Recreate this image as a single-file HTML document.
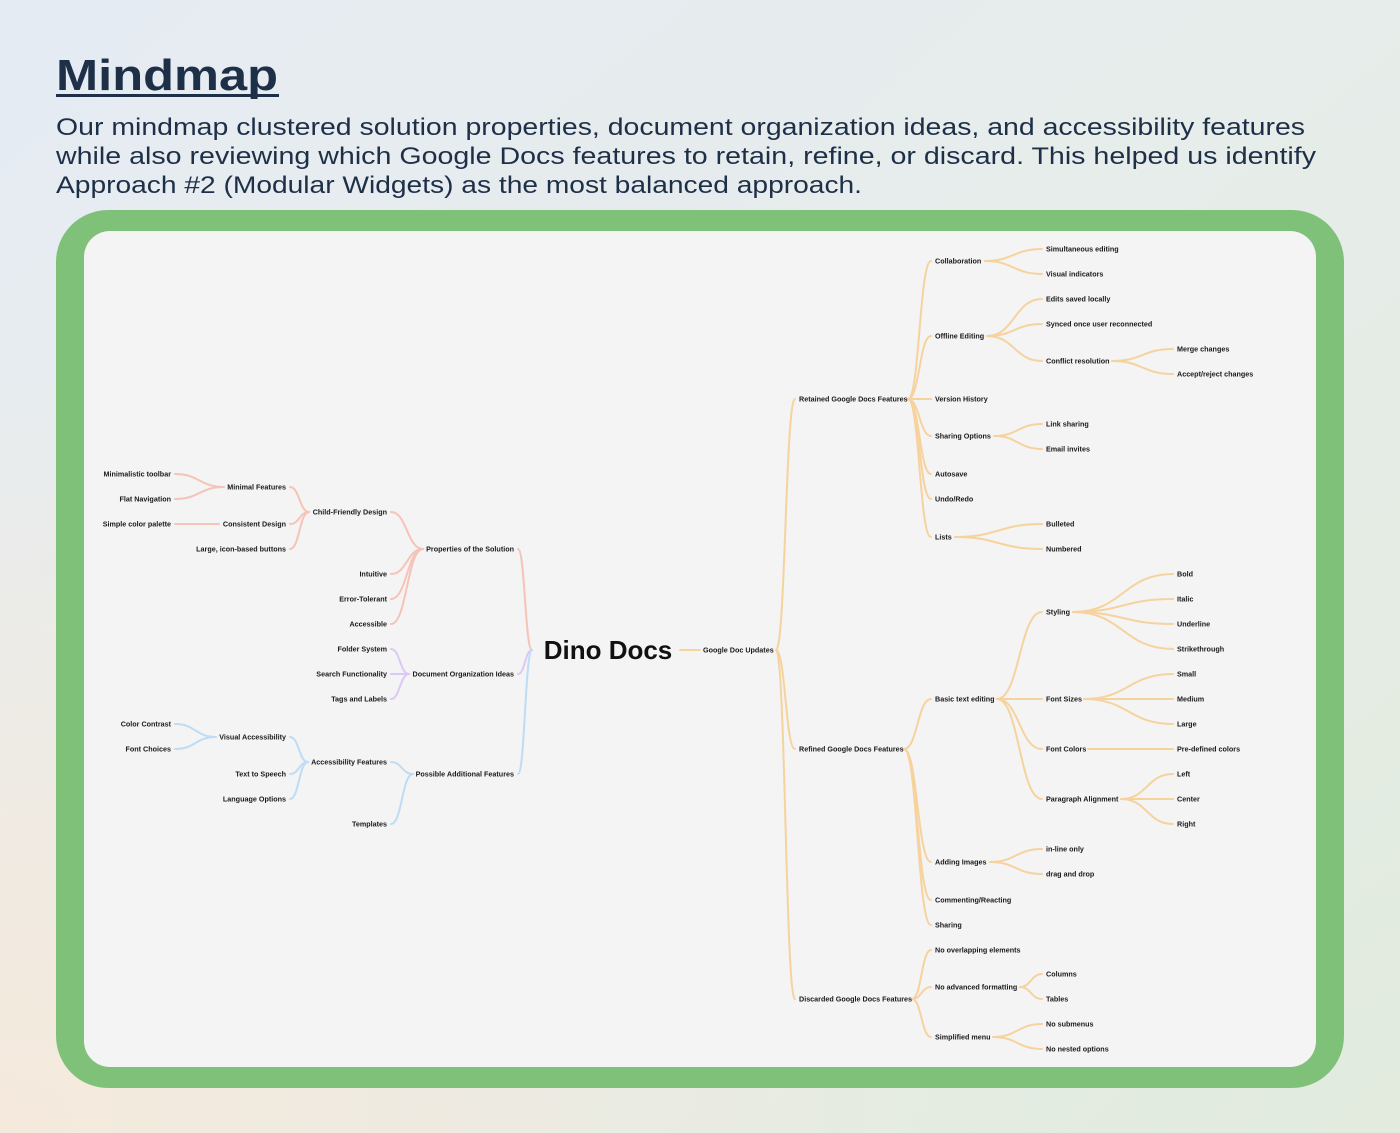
<!DOCTYPE html>
<html><head><meta charset="utf-8"><style>
html,body{margin:0;padding:0;width:1400px;height:1133px;overflow:hidden}
svg{display:block}
.t{font-family:"Liberation Sans",sans-serif;font-size:7.2px;font-weight:bold;fill:#1a1a1a}
.e{text-anchor:end}
.o path,.r path,.p path,.b path{fill:none;stroke-width:2;stroke-linecap:round}
.o path{stroke:#f6d39e}.r path{stroke:#f6c3b8}.p path{stroke:#dcc8f6}.b path{stroke:#bddcf6}
</style></head><body>
<svg width="1400" height="1133" viewBox="0 0 1400 1133" xmlns="http://www.w3.org/2000/svg">
<defs>
<linearGradient id="bg" x1="0" y1="0" x2="1" y2="1">
<stop offset="0" stop-color="#e5ebf3"/><stop offset="0.45" stop-color="#e7edeb"/><stop offset="1" stop-color="#e2ebde"/>
</linearGradient>
<radialGradient id="pe" cx="0" cy="1" r="0.7"><stop offset="0" stop-color="#f5e9dc"/><stop offset="1" stop-color="#f5e9dc" stop-opacity="0"/></radialGradient>
</defs>
<rect width="1400" height="1133" fill="url(#bg)"/>
<rect width="1400" height="1133" fill="url(#pe)"/>
<text x="56" y="90" font-family="Liberation Sans,sans-serif" font-size="44" font-weight="bold" fill="#1e3048" textLength="222" lengthAdjust="spacingAndGlyphs">Mindmap</text>
<rect x="56" y="94" width="223" height="3" fill="#1e3048"/>
<g font-family="Liberation Sans,sans-serif" font-size="24" fill="#1e3048">
<text x="56" y="135" textLength="1249" lengthAdjust="spacingAndGlyphs">Our mindmap clustered solution properties, document organization ideas, and accessibility features</text>
<text x="56" y="164" textLength="1260" lengthAdjust="spacingAndGlyphs">while also reviewing which Google Docs features to retain, refine, or discard. This helped us identify</text>
<text x="56" y="193" textLength="806" lengthAdjust="spacingAndGlyphs">Approach #2 (Modular Widgets) as the most balanced approach.</text>
</g>
<rect x="56" y="210" width="1288" height="878" rx="52" fill="#80c17a"/>
<rect x="84" y="231" width="1232" height="836" rx="26" fill="#f4f4f4"/>

<g class="o">
<path d="M680 650 L700 650"/>
<path d="M776 650 C785.5 650,785.5 399,795 399"/><path d="M776 650 C785.5 650,785.5 749,795 749"/><path d="M776 650 C785.5 650,785.5 999,795 999"/>
<path d="M908 399 C919.5 399,919.5 261,931 261"/><path d="M908 399 C919.5 399,919.5 336,931 336"/><path d="M908 399 L931 399"/><path d="M908 399 C919.5 399,919.5 436,931 436"/><path d="M908 399 C919.5 399,919.5 474,931 474"/><path d="M908 399 C919.5 399,919.5 499,931 499"/><path d="M908 399 C919.5 399,919.5 537,931 537"/>
<path d="M985 261 C1013.5 261,1013.5 249,1042 249"/><path d="M985 261 C1013.5 261,1013.5 274,1042 274"/>
<path d="M987 336 C1014.5 336,1014.5 299,1042 299"/><path d="M987 336 C1014.5 336,1014.5 324,1042 324"/><path d="M987 336 C1014.5 336,1014.5 361,1042 361"/>
<path d="M1112 361 C1142.5 361,1142.5 349,1173 349"/><path d="M1112 361 C1142.5 361,1142.5 374,1173 374"/>
<path d="M994 436 C1018 436,1018 424,1042 424"/><path d="M994 436 C1018 436,1018 449,1042 449"/>
<path d="M955 537 C998.5 537,998.5 524,1042 524"/><path d="M955 537 C998.5 537,998.5 549,1042 549"/>
<path d="M904 749 C917.5 749,917.5 699,931 699"/><path d="M904 749 C917.5 749,917.5 862,931 862"/><path d="M904 749 C917.5 749,917.5 900,931 900"/><path d="M904 749 C917.5 749,917.5 925,931 925"/>
<path d="M997 699 C1019.5 699,1019.5 612,1042 612"/><path d="M997 699 L1042 699"/><path d="M997 699 C1019.5 699,1019.5 749,1042 749"/><path d="M997 699 C1019.5 699,1019.5 799,1042 799"/>
<path d="M1073 612 C1123 612,1123 574,1173 574"/><path d="M1073 612 C1123 612,1123 599,1173 599"/><path d="M1073 612 C1123 612,1123 624,1173 624"/><path d="M1073 612 C1123 612,1123 649,1173 649"/>
<path d="M1084 699 C1128.5 699,1128.5 674,1173 674"/><path d="M1084 699 L1173 699"/><path d="M1084 699 C1128.5 699,1128.5 724,1173 724"/>
<path d="M1088 749 L1173 749"/>
<path d="M1121 799 C1147 799,1147 774,1173 774"/><path d="M1121 799 L1173 799"/><path d="M1121 799 C1147 799,1147 824,1173 824"/>
<path d="M990 862 C1016 862,1016 849,1042 849"/><path d="M990 862 C1016 862,1016 874,1042 874"/>
<path d="M912 999 C921.5 999,921.5 950,931 950"/><path d="M912 999 C921.5 999,921.5 987,931 987"/><path d="M912 999 C921.5 999,921.5 1037,931 1037"/>
<path d="M1020 987 C1031 987,1031 974,1042 974"/><path d="M1020 987 C1031 987,1031 999,1042 999"/>
<path d="M993 1037 C1017.5 1037,1017.5 1024,1042 1024"/><path d="M993 1037 C1017.5 1037,1017.5 1049,1042 1049"/>
</g>
<g class="r">
<path d="M532 650 C525 650,525 549,518 549"/>
<path d="M423 549 C407 549,407 512,391 512"/><path d="M423 549 C407 549,407 574,391 574"/><path d="M423 549 C407 549,407 599,391 599"/><path d="M423 549 C407 549,407 624,391 624"/>
<path d="M309 512 C299.5 512,299.5 487,290 487"/><path d="M309 512 C299.5 512,299.5 524,290 524"/><path d="M309 512 C299.5 512,299.5 549,290 549"/>
<path d="M224 487 C199.5 487,199.5 474,175 474"/><path d="M224 487 C199.5 487,199.5 499,175 499"/>
<path d="M219 524 L175 524"/>
</g>
<g class="p">
<path d="M532 650 C525 650,525 674,518 674"/>
<path d="M409 674 C400 674,400 649,391 649"/><path d="M409 674 L391 674"/><path d="M409 674 C400 674,400 699,391 699"/>
</g>
<g class="b">
<path d="M532 650 C525 650,525 774,518 774"/>
<path d="M413 774 C402 774,402 762,391 762"/><path d="M413 774 C402 774,402 824,391 824"/>
<path d="M308 762 C299 762,299 737,290 737"/><path d="M308 762 C299 762,299 774,290 774"/><path d="M308 762 C299 762,299 799,290 799"/>
<path d="M216 737 C195.5 737,195.5 724,175 724"/><path d="M216 737 C195.5 737,195.5 749,175 749"/>
</g>

<text x="608" y="659" text-anchor="middle" font-family="Liberation Sans,sans-serif" font-size="26" font-weight="bold" fill="#111">Dino Docs</text>

<g class="t">
<text x="703" y="652.5">Google Doc Updates</text>
<text x="799" y="401.5">Retained Google Docs Features</text>
<text x="799" y="751.5">Refined Google Docs Features</text>
<text x="799" y="1001.5">Discarded Google Docs Features</text>
<text x="935" y="263.5">Collaboration</text>
<text x="935" y="338.5">Offline Editing</text>
<text x="935" y="401.5">Version History</text>
<text x="935" y="438.5">Sharing Options</text>
<text x="935" y="476.5">Autosave</text>
<text x="935" y="501.5">Undo/Redo</text>
<text x="935" y="539.5">Lists</text>
<text x="935" y="701.5">Basic text editing</text>
<text x="935" y="864.5">Adding Images</text>
<text x="935" y="902.5">Commenting/Reacting</text>
<text x="935" y="927.5">Sharing</text>
<text x="935" y="952.5">No overlapping elements</text>
<text x="935" y="989.5">No advanced formatting</text>
<text x="935" y="1039.5">Simplified menu</text>
<text x="1046" y="251.5">Simultaneous editing</text>
<text x="1046" y="276.5">Visual indicators</text>
<text x="1046" y="301.5">Edits saved locally</text>
<text x="1046" y="326.5">Synced once user reconnected</text>
<text x="1046" y="363.5">Conflict resolution</text>
<text x="1046" y="426.5">Link sharing</text>
<text x="1046" y="451.5">Email invites</text>
<text x="1046" y="526.5">Bulleted</text>
<text x="1046" y="551.5">Numbered</text>
<text x="1046" y="614.5">Styling</text>
<text x="1046" y="701.5">Font Sizes</text>
<text x="1046" y="751.5">Font Colors</text>
<text x="1046" y="801.5">Paragraph Alignment</text>
<text x="1046" y="851.5">in-line only</text>
<text x="1046" y="876.5">drag and drop</text>
<text x="1046" y="976.5">Columns</text>
<text x="1046" y="1001.5">Tables</text>
<text x="1046" y="1026.5">No submenus</text>
<text x="1046" y="1051.5">No nested options</text>
<text x="1177" y="351.5">Merge changes</text>
<text x="1177" y="376.5">Accept/reject changes</text>
<text x="1177" y="576.5">Bold</text>
<text x="1177" y="601.5">Italic</text>
<text x="1177" y="626.5">Underline</text>
<text x="1177" y="651.5">Strikethrough</text>
<text x="1177" y="676.5">Small</text>
<text x="1177" y="701.5">Medium</text>
<text x="1177" y="726.5">Large</text>
<text x="1177" y="751.5">Pre-defined colors</text>
<text x="1177" y="776.5">Left</text>
<text x="1177" y="801.5">Center</text>
<text x="1177" y="826.5">Right</text>

<text class="e" x="514" y="551.5">Properties of the Solution</text>
<text class="e" x="514" y="676.5">Document Organization Ideas</text>
<text class="e" x="514" y="776.5">Possible Additional Features</text>
<text class="e" x="387" y="514.5">Child-Friendly Design</text>
<text class="e" x="387" y="576.5">Intuitive</text>
<text class="e" x="387" y="601.5">Error-Tolerant</text>
<text class="e" x="387" y="626.5">Accessible</text>
<text class="e" x="387" y="651.5">Folder System</text>
<text class="e" x="387" y="676.5">Search Functionality</text>
<text class="e" x="387" y="701.5">Tags and Labels</text>
<text class="e" x="387" y="764.5">Accessibility Features</text>
<text class="e" x="387" y="826.5">Templates</text>
<text class="e" x="286" y="489.5">Minimal Features</text>
<text class="e" x="286" y="526.5">Consistent Design</text>
<text class="e" x="286" y="551.5">Large, icon-based buttons</text>
<text class="e" x="286" y="739.5">Visual Accessibility</text>
<text class="e" x="286" y="776.5">Text to Speech</text>
<text class="e" x="286" y="801.5">Language Options</text>
<text class="e" x="171" y="476.5">Minimalistic toolbar</text>
<text class="e" x="171" y="501.5">Flat Navigation</text>
<text class="e" x="171" y="526.5">Simple color palette</text>
<text class="e" x="171" y="726.5">Color Contrast</text>
<text class="e" x="171" y="751.5">Font Choices</text>
</g>
</svg>
</body></html>
